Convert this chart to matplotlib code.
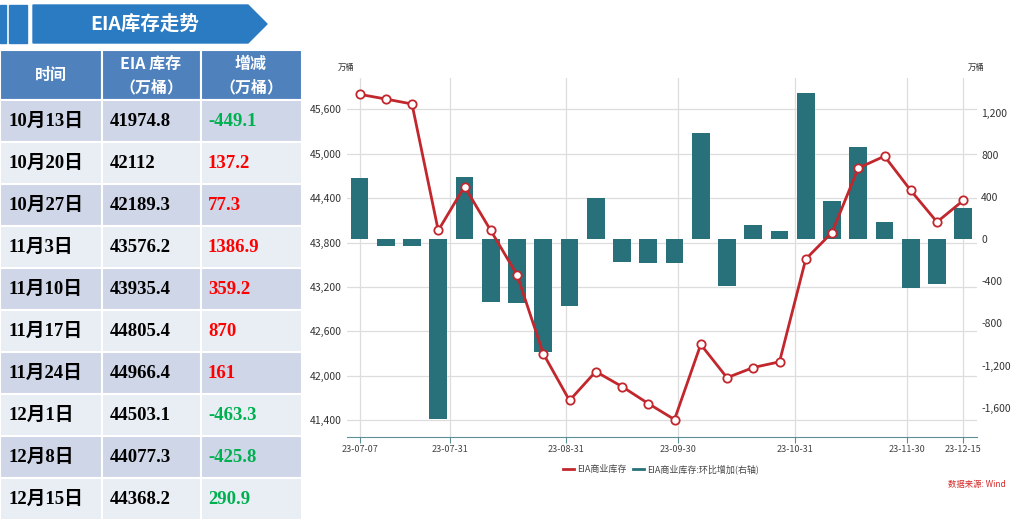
import matplotlib
matplotlib.use("Agg")
import matplotlib.pyplot as plt
import matplotlib.dates as mdates
from matplotlib import patches, ticker
from matplotlib.lines import Line2D
import numpy as np

plt.rcParams['font.family'] = ['Noto Sans CJK SC', 'DejaVu Sans']
plt.rcParams['axes.unicode_minus'] = False

# weekly EIA commercial crude inventory (万桶) and week-on-week change
week_dates = ["2023-07-07", "2023-07-14", "2023-07-21", "2023-07-28", "2023-08-04", "2023-08-11",
              "2023-08-18", "2023-08-25", "2023-09-01", "2023-09-08", "2023-09-15", "2023-09-22",
              "2023-09-29", "2023-10-06", "2023-10-13", "2023-10-20", "2023-10-27", "2023-11-03",
              "2023-11-10", "2023-11-17", "2023-11-24", "2023-12-01", "2023-12-08", "2023-12-15"]
inventory = [45802, 45738, 45671, 43963, 44556, 43963, 43365, 42301, 41667, 42058, 41855, 41626,
             41410, 42424, 41974.8, 42112, 42189.3, 43576.2, 43935.4, 44805.4, 44966.4, 44503.1,
             44077.3, 44368.2]
weekly_change = [581, -65, -65, -1710, 592, -594, -605, -1066, -632, 388, -212, -226,
                 -225, 1010, -449.1, 137.2, 77.3, 1386.9, 359.2, 870, 161, -463.3, -425.8, 290.9]

date_ticks = ["2023-07-07", "2023-07-31", "2023-08-31", "2023-09-30", "2023-10-31", "2023-11-30", "2023-12-15"]
left_ticks = [41400, 42000, 42600, 43200, 43800, 44400, 45000, 45600]
right_ticks = [-1600, -1200, -800, -400, 0, 400, 800, 1200]

# table on the left
table_dates = ["10月13日", "10月20日", "10月27日", "11月3日", "11月10日",
               "11月17日", "11月24日", "12月1日", "12月8日", "12月15日"]
table_stock = ["41974.8", "42112", "42189.3", "43576.2", "43935.4",
               "44805.4", "44966.4", "44503.1", "44077.3", "44368.2"]
table_change = ["-449.1", "137.2", "77.3", "1386.9", "359.2",
                "870", "161", "-463.3", "-425.8", "290.9"]
table_change_up = [False, True, True, True, True, True, True, False, False, False]

RED = '#C1272D'
TEAL = '#28707A'

W, H = 1019, 520
fig = plt.figure(figsize=(W / 100, H / 100), dpi=100)

# full-figure layer in pixel coordinates for the banner and the table
bg = fig.add_axes([0, 0, 1, 1])
bg.set_xlim(0, W)
bg.set_ylim(H, 0)
bg.axis('off')

banner = '#2A7BC2'
bg.add_patch(patches.Rectangle((0, 5), 6, 38, color=banner))
bg.add_patch(patches.Rectangle((9, 5), 18, 38, color=banner))
bg.add_patch(patches.Polygon([(33, 5), (248, 5), (267, 24), (248, 43), (33, 43)], closed=True, color=banner))
bg.text(145, 24, "EIA库存走势", color='white', fontsize=14, fontweight='bold', ha='center', va='center')

col_edges = [0, 102, 201, 302]
header = '#4F81BD'
for x0, x1 in zip(col_edges[:-1], col_edges[1:]):
    bg.add_patch(patches.Rectangle((x0, 50), x1 - x0, 50, facecolor=header, edgecolor='white', lw=1.5))
hdr_font = dict(color='white', fontsize=11.5, fontweight='bold', ha='center', va='center')
bg.text(51, 75, "时间", **hdr_font)
bg.text(151, 64, "EIA 库存", **hdr_font)
bg.text(151, 87, "（万桶）", **hdr_font)
bg.text(251, 64, "增减", **hdr_font)
bg.text(251, 87, "（万桶）", **hdr_font)

row_h = 42
cell_font = dict(fontsize=13.5, fontweight='bold', va='center', ha='left',
                 family=['Liberation Serif', 'Noto Sans CJK SC'])
for i, (d, s, c, up) in enumerate(zip(table_dates, table_stock, table_change, table_change_up)):
    y0 = 100 + i * row_h
    fill = '#CFD6E8' if i % 2 == 0 else '#E9EDF4'
    for x0, x1 in zip(col_edges[:-1], col_edges[1:]):
        bg.add_patch(patches.Rectangle((x0, y0), x1 - x0, row_h, facecolor=fill, edgecolor='white', lw=1.5))
    yc = y0 + row_h / 2
    bg.text(8, yc, d, color='black', **cell_font)
    bg.text(110, yc, s, color='black', **cell_font)
    bg.text(208, yc, c, color='#FF0000' if up else '#00B050', **cell_font)

# unit labels and source note
bg.text(346, 67, "万桶", fontsize=6, color='#333333', ha='center', va='center')
bg.text(976, 67, "万桶", fontsize=6, color='#333333', ha='center', va='center')
bg.text(1006, 484, "数据来源: Wind", fontsize=6, color='#D62728', ha='right', va='center', style='italic')

# chart
dates = np.array(week_dates, dtype='datetime64[D]')
ax = fig.add_axes([347 / W, (H - 437) / H, 630 / W, 359 / H])
ax_bar = ax.twinx()
ax_line = ax.twinx()

ax.set_xlim(dates[0] - np.timedelta64(80, 'h'), dates[-1] + np.timedelta64(88, 'h'))
ax.set_ylim(41174, 46022)
ax_line.set_ylim(41174, 46022)
ax_bar.set_ylim(-1877, 1529)

ax_bar.bar(dates, weekly_change, width=4.8, color=TEAL, zorder=2)
ax_line.plot(dates, inventory, color=RED, lw=2, marker='o', ms=6, mfc='white', mec=RED, mew=1.3, zorder=3)

tick_dates = np.array(date_ticks, dtype='datetime64[D]')
ax.set_xticks(tick_dates)
ax.xaxis.set_major_formatter(mdates.DateFormatter('%y-%m-%d'))
ax.set_yticks(left_ticks)
ax.yaxis.set_major_formatter(ticker.FuncFormatter(lambda v, p: f"{v:,.0f}"))
ax_bar.set_yticks(right_ticks)
ax_bar.yaxis.set_major_formatter(ticker.FuncFormatter(lambda v, p: f"{v:,.0f}"))
ax_line.set_yticks([])

ax.grid(True, color='#DDDDDD', lw=0.9)
ax.set_axisbelow(True)

for a in (ax, ax_bar, ax_line):
    for side in ('top', 'left', 'right', 'bottom'):
        a.spines[side].set_visible(False)
ax.spines['bottom'].set_visible(True)
ax.spines['bottom'].set_color('#5C8F96')

ax.tick_params(axis='x', length=4, color='#5C8F96', labelsize=6.5, labelcolor='#444444', pad=2)
ax.tick_params(axis='y', length=0, labelsize=7.5, labelcolor='#333333', pad=4)
ax_bar.tick_params(axis='y', length=0, labelsize=7.5, labelcolor='#333333', pad=3)

handles = [Line2D([], [], color=RED, lw=2), Line2D([], [], color=TEAL, lw=2)]
fig.legend(handles, ["EIA商业库存", "EIA商业库存:环比增加(右轴)"], loc='center',
           bbox_to_anchor=(661 / W, (H - 469) / H), ncol=2, frameon=False, fontsize=6.5,
           handlelength=1.2, handletextpad=0.3, columnspacing=0.8, labelcolor='#444444')

fig.savefig("out.png", dpi=100)
